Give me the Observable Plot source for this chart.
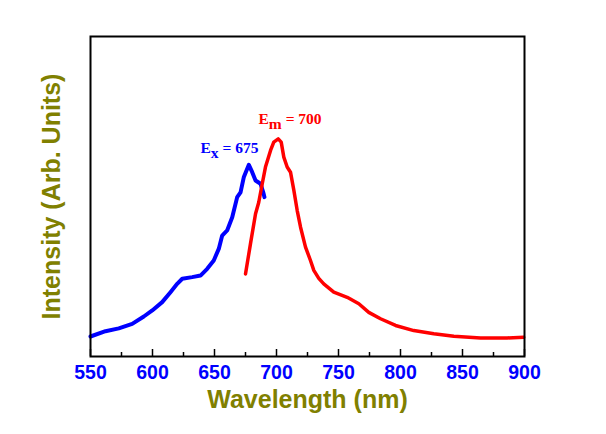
<!DOCTYPE html>
<html>
<head>
<meta charset="utf-8">
<script src="https://cdn.jsdelivr.net/npm/d3@7"></script>
<script src="https://cdn.jsdelivr.net/npm/@observablehq/plot@0.6"></script>
<style>
  html, body { margin: 0; padding: 0; background: #fff; }
  svg { display: block; }
</style>
</head>
<body>
<div id="chart"></div>
<script>
// Excitation spectrum (blue)
const exWavelength = [550, 562.1, 572.8, 583.6, 593.0, 599.8, 607.8, 614.5, 619.9, 624.0, 632.0, 638.7, 644.1, 649.4, 653.5, 656.2, 660.2, 664.3, 668.3, 671.0, 673.6, 677.7, 680.4, 683.1, 687.1, 689.3, 690.3];
const exIntensity  = [6.25, 7.9, 8.8, 10.2, 12.5, 14.4, 17.0, 20.1, 22.7, 24.3, 24.8, 25.3, 27.4, 30.0, 33.7, 37.8, 39.4, 43.5, 49.8, 51.3, 56.0, 59.9, 57.6, 55.0, 54.0, 51.3, 49.8];
// Emission spectrum (red)
const emWavelength = [675.0, 679.0, 683.1, 685.7, 688.5, 691.1, 695.2, 697.8, 701.4, 703.8, 705.9, 708.6, 711.3, 714.0, 716.7, 719.4, 723.4, 727.4, 730.1, 734.1, 738.1, 746.2, 757.0, 766.4, 774.4, 783.9, 796.0, 810.7, 826.9, 843.0, 864.5, 886.0, 899.4];
const emIntensity  = [25.8, 35.2, 44.6, 48.2, 54.0, 59.2, 64.4, 67.0, 68.0, 67.0, 62.3, 59.2, 57.6, 51.9, 45.6, 40.4, 34.2, 30.0, 26.9, 24.4, 22.7, 20.1, 18.5, 16.5, 13.8, 11.8, 9.7, 8.1, 7.1, 6.3, 5.8, 5.8, 6.0];

const majorTicks = [550, 600, 650, 700, 750, 800, 850, 900];
const minorTicks = [575, 625, 675, 725, 775, 825, 875];

// Annotations
const labelMain = ["E", "E"];
const labelSub  = ["x", "m"];
const labelRest = [" = 675", " = 700"];
const labelX    = [638.7, 685.5];
const labelY    = [63.75, 72.8];
const labelColor = ["#0000ff", "#ff0000"];

const ex = exWavelength.map((w, i) => ({w, v: exIntensity[i]}));
const em = emWavelength.map((w, i) => ({w, v: emIntensity[i]}));
const labels = labelMain.map((m, i) => ({text: m + labelSub[i] + labelRest[i], x: labelX[i], y: labelY[i], color: labelColor[i]}));

const olive = "#808000";
const sans = "Liberation Sans, Arial, sans-serif";

const chart = Plot.plot({
  width: 606,
  height: 434,
  marginLeft: 90,
  marginRight: 82,
  marginTop: 36,
  marginBottom: 78,
  style: {background: "#fff", overflow: "visible"},
  x: {domain: [550, 900]},
  y: {domain: [0, 100]},
  marks: [
    Plot.line(ex, {x: "w", y: "v", stroke: "#0000ff", strokeWidth: 4, strokeLinejoin: "round"}),
    Plot.line(em, {x: "w", y: "v", stroke: "#ff0000", strokeWidth: 3.5, strokeLinejoin: "round"}),
    Plot.ruleX(majorTicks, {stroke: "#000", strokeWidth: 1.5, insetTop: 313}),
    Plot.ruleX(minorTicks, {stroke: "#000", strokeWidth: 1.5, insetTop: 316}),
    Plot.axisX({ticks: majorTicks, tickSize: 0, tickPadding: 9, tickFormat: d => String(d),
      fill: "#0000ff", fontSize: 19.5, fontWeight: "bold", fontFamily: sans, label: null}),
    Plot.axisX({ticks: [], tickSize: 0, label: "Wavelength (nm)", labelAnchor: "center", labelArrow: "none", labelOffset: 51,
      fill: olive, fontSize: 25, fontWeight: "bold", fontFamily: sans}),
    Plot.axisY({ticks: [], tickSize: 0, label: "Intensity (Arb. Units)", labelAnchor: "center", labelArrow: "none", labelOffset: 48,
      fill: olive, fontSize: 25, fontWeight: "bold", fontFamily: sans}),
    Plot.text(labels, {x: "x", y: "y", text: "text", fill: "color", textAnchor: "start", lineAnchor: "bottom",
      fontSize: 15.5, fontWeight: "bold", fontFamily: "Liberation Serif, Times New Roman, serif", className: "annot"}),
    Plot.frame({stroke: "#000", strokeWidth: 2})
  ]
});

// Turn annotation subscripts into real subscripts
d3.select(chart).selectAll(".annot text").each(function() {
  const el = d3.select(this);
  const t = el.text();
  const k = labels.findIndex(l => l.text === t);
  if (k < 0) return;
  el.text(null);
  el.append("tspan").text(labelMain[k]);
  el.append("tspan").attr("dy", "5").text(labelSub[k]);
  el.append("tspan").attr("dy", "-5").attr("xml:space", "preserve").text(labelRest[k]);
});

document.getElementById("chart").appendChild(chart);
</script>
</body>
</html>
